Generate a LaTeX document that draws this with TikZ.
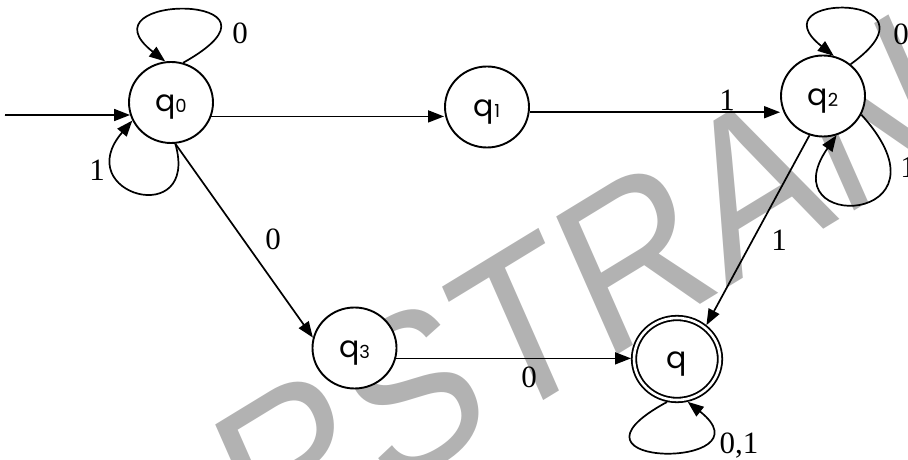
\documentclass[tikz,border=0pt]{standalone}
\usepackage{fontspec}
\setmainfont{Liberation Serif}
\newfontfamily\statefont{Poppins}
\newfontfamily\markfont{Liberation Sans}
\usetikzlibrary{arrows.meta,shapes.geometric,calc}

\newcommand{\stname}[1]{q\raisebox{-1pt}{\fontsize{18}{18}\selectfont #1}}

\tikzset{
  dfastate/.style={ellipse, draw, fill=white, line width=1.9pt,
    minimum width=84pt, minimum height=81pt, inner sep=0pt,
    font=\statefont\fontsize{30}{30}\selectfont,
    text height=22pt, text depth=3.6pt},
  finalstate/.style={dfastate, double, double distance=2.6pt, line width=1.8pt,
    minimum width=86pt, minimum height=82pt, outer sep=3pt},
  trans/.style={-{Triangle[length=16pt,width=12pt]}, line width=1.7pt},
  lbl/.style={font=\fontsize{31}{31}\selectfont, inner sep=0pt},
  wmark/.style={text=black!30, font=\markfont\fontsize{226}{226}\selectfont, inner sep=0pt}
}

\begin{document}
\begin{tikzpicture}[x=1pt,y=1pt]
\useasboundingbox (0,0) rectangle (908,460);
\clip (0,0) rectangle (908,460);

% background lettering, tilted then squeezed sideways
\begin{scope}[xscale=0.85]
  \node[wmark, transform shape, rotate=27.4] (wm) at (752,206) {RSTRANK};
\end{scope}

% states
\node[dfastate] (q0) at (171,357.5) {\stname{0}};
\node[dfastate] (q1) at (487,353) {\stname{1}};
\node[dfastate] (q2) at (823,364) {\stname{2}};
\node[dfastate] (q3) at (354.5,112) {\stname{3}};
\node[finalstate] (qf) at (677,101) {q};

% start arrow
\coordinate (start) at (5,345);
\draw[trans] (start) -- (q0.197);

% transitions between states
\draw[trans] (q0.-19) -- (q0.-19 -| q1.west);
\draw[trans] (q1.-7) -- (q1.-7 -| q2.west);
\draw[trans] (q0.-84) -- (q3.166);
\draw[trans] (q3.-14) -- (q3.-14 -| qf.west);
\draw[trans] (q2.-109) -- (qf.49);

% self loops
\draw[trans] (q0.73) .. controls ($(q0)+(138,110)$) and ($(q0)+(-94.4,110)$) .. (q0.98);
\draw[trans] (q0.-84) .. controls ($(q0)+(29,-127.5)$) and ($(q0)+(-102,-92)$) .. (q0.205);
\draw[trans] (q2.49) .. controls ($(q2)+(128,104)$) and ($(q2)+(-70,104)$) .. (q2.75);
\draw[trans] (q2.-26) .. controls ($(q2)+(138.5,-129)$) and ($(q2)+(-55.3,-138)$) .. (q2.-71);
\draw[trans] (qf.-103) .. controls ($(qf)+(-134.6,-110.3)$) and ($(qf)+(96.3,-110.3)$) .. (qf.-76);

% transition labels
\node[lbl] (l1) at (240,427) {0};
\node[lbl] (l2) at (97,290) {1};
\node[lbl] (l3) at (273,221) {0};
\node[lbl] (l4) at (727,360) {1};
\node[lbl] (l5) at (901,426) {0};
\node[lbl] (l6) at (908,293) {1};
\node[lbl] (l7) at (779,220) {1};
\node[lbl] (l8) at (529,83) {0};
\node[lbl] (l9) at (739,14) {0,1};
\end{tikzpicture}
\end{document}
